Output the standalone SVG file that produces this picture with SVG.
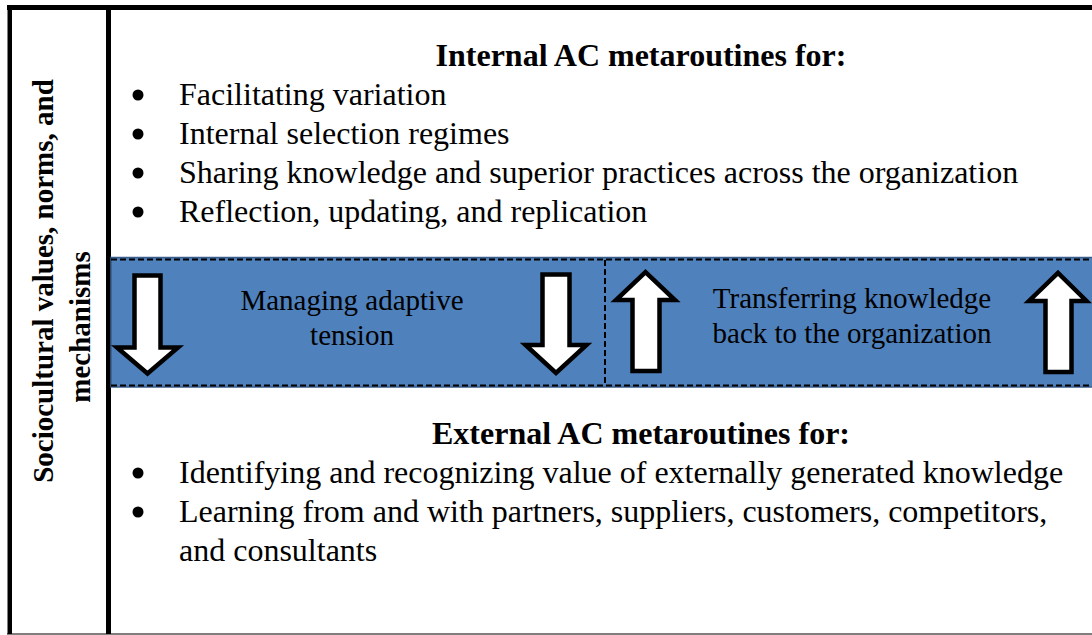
<svg xmlns="http://www.w3.org/2000/svg" width="1092" height="635" viewBox="0 0 1092 635">
<style>
.body{font-family:"Liberation Serif","Times New Roman",serif;font-size:32px;fill:#000}
.head{font-family:"Liberation Serif","Times New Roman",serif;font-size:32px;font-weight:bold;fill:#000}
.band{font-family:"Liberation Serif","Times New Roman",serif;font-size:29px;fill:#000}
.side{font-family:"Liberation Serif","Times New Roman",serif;font-size:29px;font-weight:bold;fill:#000}
.arrow{fill:#fff;stroke:#000;stroke-width:4.5;stroke-linejoin:miter}
.dash{stroke:#000;stroke-width:2;stroke-dasharray:6,3;fill:none}
</style>
<rect x="0" y="0" width="1092" height="635" fill="#fff"/>
<g id="frame">
  <line x1="7" y1="634" x2="1092" y2="634" stroke="#555" stroke-width="1.5"/>
  <rect x="7" y="5" width="1085" height="5" fill="#000"/>
  <rect x="7.5" y="5" width="4.5" height="629" fill="#000"/>
  <rect x="106" y="5" width="5" height="629" fill="#000"/>
</g>
<g id="side-label">
  <text class="side" transform="translate(53,281) rotate(-90)" text-anchor="middle">Sociocultural values, norms, and</text>
  <text class="side" transform="translate(90,327) rotate(-90)" text-anchor="middle">mechanisms</text>
</g>
<g id="internal">
  <text class="head" x="641" y="66" text-anchor="middle">Internal AC metaroutines for:</text>
  <circle cx="138" cy="95" r="5.5"/>
  <circle cx="138" cy="134" r="5.5"/>
  <circle cx="138" cy="173" r="5.5"/>
  <circle cx="138" cy="212" r="5.5"/>
  <text class="body" x="179" y="105">Facilitating variation</text>
  <text class="body" x="179" y="144">Internal selection regimes</text>
  <text class="body" x="179" y="183">Sharing knowledge and superior practices across the organization</text>
  <text class="body" x="179" y="222">Reflection, updating, and replication</text>
</g>
<g id="band">
  <rect x="111" y="257.5" width="982" height="129.5" fill="#4F81BD" stroke="#385D8A" stroke-width="1.5"/>
  <line class="dash" x1="111" y1="259.5" x2="1092" y2="259.5"/>
  <line class="dash" x1="111" y1="385.5" x2="1092" y2="385.5"/>
  <line class="dash" x1="605" y1="260" x2="605" y2="385"/>
</g>
<g id="managing">
  <text class="band" x="352" y="310" text-anchor="middle">Managing adaptive</text>
  <text class="band" x="352" y="345" text-anchor="middle">tension</text>
</g>
<g id="transferring">
  <text class="band" x="852" y="308" text-anchor="middle">Transferring knowledge</text>
  <text class="band" x="852" y="343" text-anchor="middle">back to the organization</text>
</g>
<g id="connectors">
  <path class="arrow" d="M134.5,275.5 H160.5 V347.5 H178 L147.5,373.5 L117,347.5 H134.5 Z"/>
  <path class="arrow" d="M542.5,274.5 H569.5 V345 H586.5 L556,373 L525.5,345 H542.5 Z"/>
  <path class="arrow" d="M632.5,371 H659.5 V300 H675 L645.5,272 L616,300 H632.5 Z"/>
  <path class="arrow" d="M1045.5,372 H1071.5 V301 H1086.5 L1058,273 L1029,301 H1045.5 Z"/>
</g>
<g id="external">
  <text class="head" x="641" y="444" text-anchor="middle">External AC metaroutines for:</text>
  <circle cx="138" cy="473" r="5.5"/>
  <circle cx="138" cy="512" r="5.5"/>
  <text class="body" x="179" y="483">Identifying and recognizing value of externally generated knowledge</text>
  <text class="body" x="179" y="522">Learning from and with partners, suppliers, customers, competitors,</text>
  <text class="body" x="179" y="561">and consultants</text>
</g>
</svg>
